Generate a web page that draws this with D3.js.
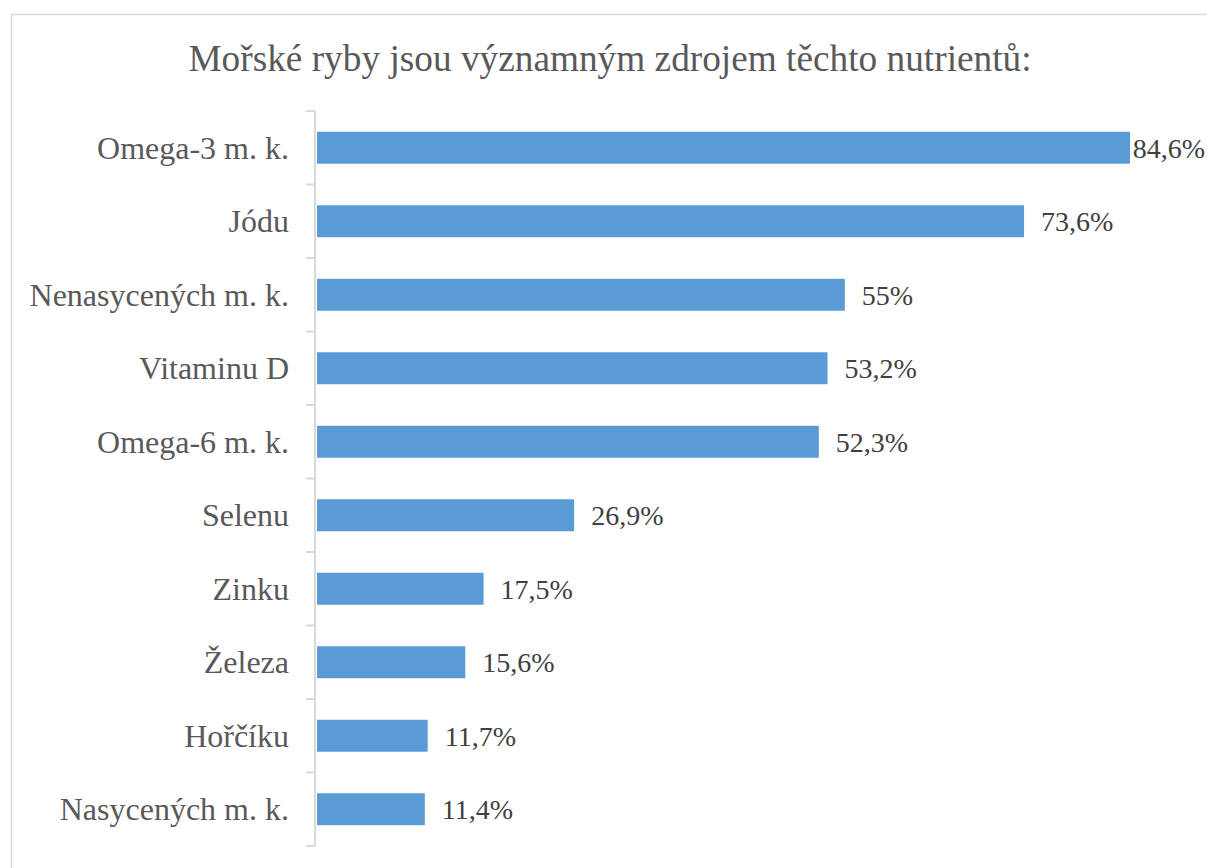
<!DOCTYPE html>
<html>
<head>
<meta charset="utf-8">
<script src="https://cdn.jsdelivr.net/npm/d3@7"></script>
<style>
  body { margin: 0; background: #fff; }
  text { font-family: "Liberation Serif", "Times New Roman", serif; }
</style>
</head>
<body>
<svg id="graf" width="1207" height="868"></svg>
<script>
"use strict"
// Nutrient categories, top to bottom
var kategorie = ["Omega-3 m. k.", "Jódu", "Nenasycených m. k.", "Vitaminu D", "Omega-6 m. k.",
                 "Selenu", "Zinku", "Železa", "Hořčíku", "Nasycených m. k."];
// Share of respondents (%)
var hodnoty = [84.6, 73.6, 55, 53.2, 52.3, 26.9, 17.5, 15.6, 11.7, 11.4];
// Value labels as shown
var popisky = ["84,6%", "73,6%", "55%", "53,2%", "52,3%", "26,9%", "17,5%", "15,6%", "11,7%", "11,4%"];
var titulek = "Mořské ryby jsou významným zdrojem těchto nutrientů:";

var svg = d3.select("svg#graf"),
    width = +svg.attr("width"),
    height = +svg.attr("height"),
    osaX = 315,                      // vertical category axis position
    osaTop = 111, osaBottom = 846;

// Chart area border (only top and left edges visible in the crop)
svg.append("rect")
    .attr("x", 11.5).attr("y", 14.5)
    .attr("width", width + 20).attr("height", height + 20)
    .attr("fill", "none").attr("stroke", "#d9d9d9").attr("stroke-width", 1.5);

var x = d3.scaleLinear().domain([0, 84.6]).range([osaX, 1130]),
    y = d3.scaleBand().domain(kategorie).range([osaTop, osaBottom]).paddingInner(0.565).paddingOuter(0.2825);

// Title
svg.append("text")
    .attr("x", 610).attr("y", 71)
    .attr("text-anchor", "middle")
    .attr("fill", "#595959")
    .style("font-size", "37.3px")
    .text(titulek);

// Bars
svg.append("g").selectAll("rect")
    .data(hodnoty)
  .enter().append("rect")
    .attr("x", osaX + 2)
    .attr("y", function(d, i) { return y(kategorie[i]); })
    .attr("width", function(d) { return x(d) - osaX - 2; })
    .attr("height", y.bandwidth())
    .attr("fill", "#5b9bd5");

// Category axis: line plus ticks between categories
var osa = svg.append("g").attr("stroke", "#d9d9d9").attr("stroke-width", 2);
osa.append("line").attr("x1", osaX).attr("x2", osaX).attr("y1", osaTop).attr("y2", osaBottom);
osa.selectAll("line.tick")
    .data(d3.range(kategorie.length + 1))
  .enter().append("line")
    .attr("class", "tick")
    .attr("x1", osaX - 9).attr("x2", osaX)
    .attr("y1", function(i) { return osaTop + i * y.step(); })
    .attr("y2", function(i) { return osaTop + i * y.step(); });

// Category labels
svg.append("g").selectAll("text")
    .data(kategorie)
  .enter().append("text")
    .attr("x", osaX - 26)
    .attr("y", function(d) { return y(d) + y.bandwidth() / 2; })
    .attr("dy", "0.35em")
    .attr("text-anchor", "end")
    .attr("fill", "#595959")
    .style("font-size", "32px")
    .text(function(d) { return d; });

// Value labels, pulled in when they would run off the right edge
svg.append("g").selectAll("text")
    .data(hodnoty)
  .enter().append("text")
    .attr("y", function(d, i) { return y(kategorie[i]) + y.bandwidth() / 2; })
    .attr("dy", "0.35em")
    .attr("fill", "#404040")
    .style("font-size", "28px")
    .text(function(d, i) { return popisky[i]; })
    .attr("x", function(d) {
      var w = this.getComputedTextLength();
      return Math.min(x(d) + 17, width - 2 - w);
    });
</script>
</body>
</html>
